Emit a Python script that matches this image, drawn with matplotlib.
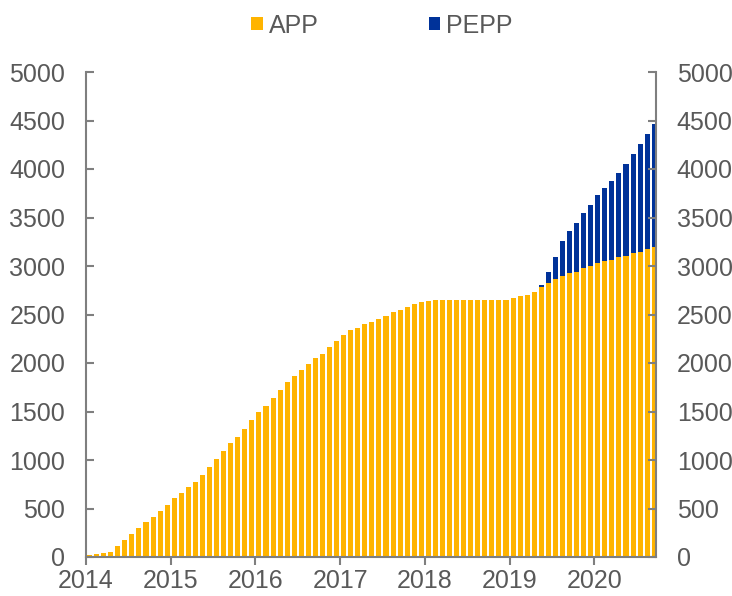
import numpy as np
import matplotlib.pyplot as plt

plt.rcParams['font.family'] = ['Liberation Sans', 'DejaVu Sans']

# monthly stock of holdings, Jan 2014 .. Sep 2020 (EUR bn)
app = [17, 31, 41, 52, 113, 179, 237, 302, 364, 412,
       478, 539, 605, 656, 718, 777, 842, 924, 1010, 1093,
       1175, 1237, 1323, 1409, 1495, 1553, 1639, 1722, 1801, 1863,
       1928, 1990, 2048, 2093, 2162, 2224, 2285, 2337, 2364, 2399,
       2426, 2457, 2488, 2523, 2550, 2574, 2608, 2625, 2640, 2650,
       2650, 2650, 2650, 2650, 2650, 2650, 2650, 2650, 2650, 2650,
       2670, 2688, 2705, 2732, 2784, 2825, 2863, 2900, 2925, 2942,
       2976, 3003, 3031, 3049, 3065, 3090, 3106, 3131, 3148, 3172,
       3193]
pepp = [0] * 64 + [16, 117, 233, 358, 436, 498, 567, 626, 698, 758,
                   815, 869, 949, 1024, 1110, 1186, 1271]
years = ['2014', '2015', '2016', '2017', '2018', '2019', '2020']

app = np.array(app)
pepp = np.array(pepp)
x = np.arange(len(app)) + 0.5

fig = plt.figure(figsize=(7.32, 5.96), dpi=100)
ax = fig.add_axes([86/732, 1 - 557/596, 570/732, 485/596])

ax.bar(x, app, width=0.72, color='#FFB400', label='APP')
ax.bar(x, pepp, width=0.72, bottom=app, color='#003299', label='PEPP')

ax.set_xlim(0, 80.75)
ax.set_ylim(0, 5000)
ax.set_xticks(np.arange(len(years)) * 12)
ax.set_xticklabels(years)
ax.set_yticks(np.arange(0, 5001, 500))

grey = '#7f7f7f'
txt = '#595959'
for s in ['left', 'right', 'bottom']:
    ax.spines[s].set_color(grey)
    ax.spines[s].set_linewidth(1.5)
ax.spines['top'].set_visible(False)

ax.tick_params(axis='y', direction='in', left=True, right=True,
               labelleft=True, labelright=True, length=6, width=1.5,
               color=grey, labelcolor=txt, labelsize=18, pad=15)
ax.tick_params(axis='x', direction='out', length=6, width=1.5,
               color=grey, labelcolor=txt, labelsize=18, pad=3)

fig.legend(loc='upper center', bbox_to_anchor=(0.522, 1.015), ncol=2,
           frameon=False, fontsize=18, handlelength=0.45, handleheight=0.45,
           handletextpad=0.25, columnspacing=4.4, labelcolor=txt)

fig.savefig('out.png', dpi=100)
